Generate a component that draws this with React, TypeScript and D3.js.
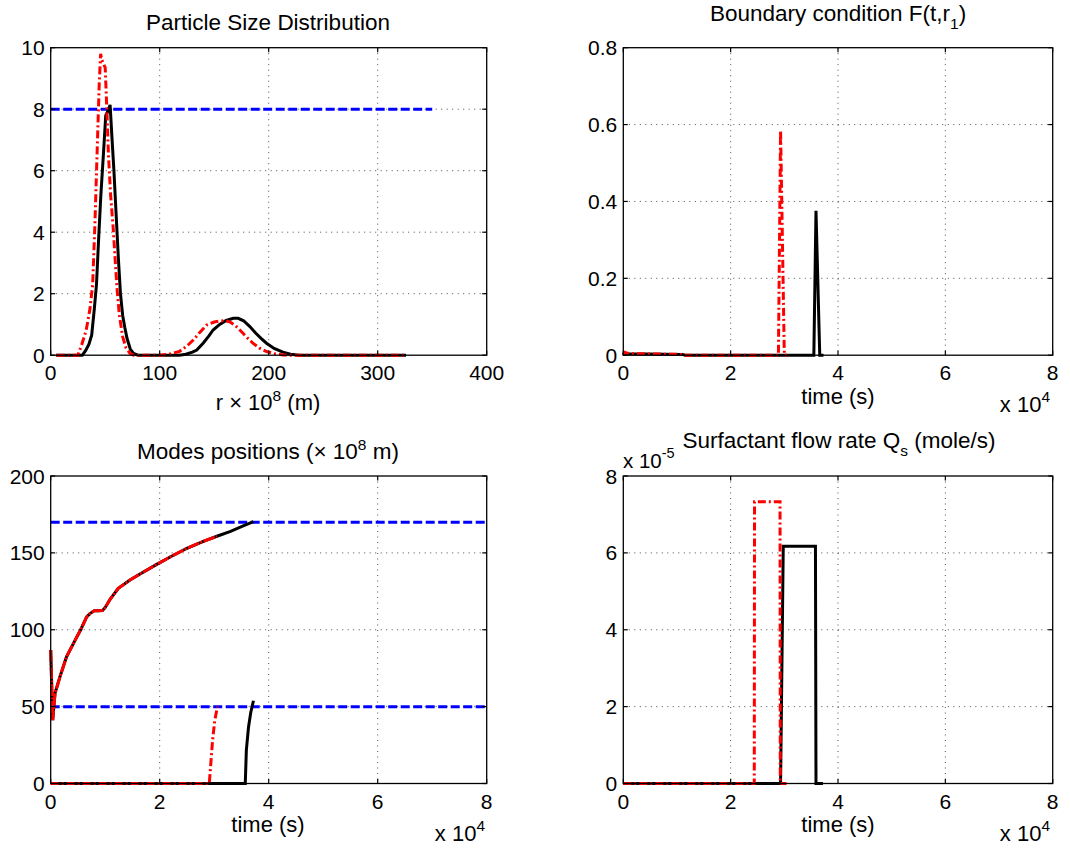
import React from 'react';
import * as d3 from 'd3';

// ---------- Panel 1: Particle Size Distribution ----------
const psdBlackR = [5, 20, 29, 32, 35, 37.6, 40, 42, 44, 46, 48.3, 50.5, 52, 54.5, 56, 58, 60, 62, 64, 66, 68, 70, 73, 76, 80, 110, 118, 124, 130, 134, 140, 145, 149, 155, 161, 167.5, 172, 177, 182.7, 188, 193, 198, 205, 213, 220, 228, 326];
const psdBlackV = [0, 0, 0, 0.15, 0.35, 0.65, 1.5, 2.3, 3.8, 5.2, 6.5, 7.8, 7.9, 8.14, 7.2, 6.0, 4.6, 3.2, 2.0, 1.3, 0.9, 0.55, 0.2, 0.06, 0, 0, 0, 0.03, 0.1, 0.17, 0.4, 0.62, 0.82, 1.0, 1.13, 1.2, 1.2, 1.12, 0.93, 0.72, 0.55, 0.39, 0.22, 0.1, 0.03, 0, 0];
const psdRedR = [5.5, 20, 25, 28.5, 32.5, 36, 38.5, 40.5, 42.5, 44.5, 45.8, 47, 50, 51.5, 53, 55, 57.4, 59.5, 61, 63, 66, 69, 72.5, 76, 100, 108, 118, 125, 131, 137, 143, 150, 155, 160, 164, 169, 173.5, 180, 185.5, 192, 198, 205, 213, 220, 326];
const psdRedV = [0, 0, 0, 0.35, 0.8, 1.5, 2.3, 4.2, 6.5, 8.8, 9.8, 9.6, 9.35, 8.0, 6.5, 5.2, 4.1, 2.9, 2.1, 1.3, 0.6, 0.25, 0.07, 0, 0, 0.03, 0.12, 0.3, 0.5, 0.75, 0.98, 1.08, 1.11, 1.12, 1.09, 0.98, 0.82, 0.58, 0.39, 0.22, 0.12, 0.05, 0.01, 0, 0];
const psdTargetR = [0, 350];
const psdTargetV = [8, 8];
const psdXTicks = [0, 100, 200, 300, 400];
const psdYTicks = [0, 2, 4, 6, 8, 10];

// ---------- Panel 2: Boundary condition ----------
const bcBlackT = [0, 0.02, 0.1, 1.1, 1.15, 3.55, 3.59, 3.66, 3.73];
const bcBlackV = [0, 0.005, 0.004, 0.002, 0, 0, 0.376, 0, 0];
const bcRedT = [0, 0.02, 0.06, 0.2, 0.6, 1.1, 1.15, 2.89, 2.93, 3.0, 3.05];
const bcRedV = [0, 0.008, 0.006, 0.004, 0.003, 0.002, 0, 0, 0.585, 0, 0];
const bcYTicks = [0, 0.2, 0.4, 0.6, 0.8];
const timeTicks = [0, 2, 4, 6, 8];

// ---------- Panel 3: Modes positions ----------
const modeMainT = [0, 0.01, 0.025, 0.037, 0.079, 0.17, 0.29, 0.48, 0.55, 0.66, 0.72, 0.8, 0.86, 0.95, 1.0, 1.09, 1.24, 1.455, 1.6, 1.945, 2.2, 2.5, 2.8, 3.05];
const modeMainV = [86.8, 75, 55, 41.2, 58.6, 69.4, 82.4, 95.4, 100, 108.4, 110.5, 112.3, 112.3, 112.5, 114.5, 119.8, 127, 132.3, 135.5, 142.5, 147.5, 153, 157.5, 160.8];
const modeBlackTailT = [3.05, 3.3, 3.5, 3.72];
const modeBlackTailV = [160.8, 164, 167, 170.3];
const modeRedLowT = [0, 2.91, 2.97, 3.01, 3.06];
const modeRedLowV = [0, 0, 28, 41, 50];
const modeBlackLowT = [0, 3.57, 3.59, 3.63, 3.67, 3.72];
const modeBlackLowV = [0, 0, 21.7, 36.8, 46, 53.8];
const modeTargets = [170, 50];
const modeYTicks = [0, 50, 100, 150, 200];

// ---------- Panel 4: Surfactant flow rate ----------
const qBlackT = [0, 2.93, 2.98, 3.58, 3.59, 3.72];
const qBlackV = [0, 0, 6.17, 6.17, 0, 0];
const qRedT = [0, 2.44, 2.445, 2.92, 2.925, 3.04];
const qRedV = [0, 0, 7.33, 7.33, 0, 0];
const qYTicks = [0, 2, 4, 6, 8];

const FONT = '"Liberation Sans", Arial, Helvetica, sans-serif';
const FS = 21;
const FT = 22.5;
const FL = 22;
const BLACK_STYLE = { color: '#000000', dash: undefined as string | undefined, width: 3 };
const RED_STYLE = { color: '#ff0000', dash: '8,3,2,3', width: 3 };
const BLUE_STYLE = { color: '#0000ff', dash: '9,3.5', width: 3 };

type Series = { x: number[]; y: number[]; color: string; dash?: string; width: number };

const zip = (a: number[], b: number[]) => a.map((v, i) => [v, b[i]] as [number, number]);

function Panel(props: {
  left: number; top: number; width: number; height: number;
  xDomain: [number, number]; yDomain: [number, number];
  xTicks: number[]; yTicks: number[];
  series: Series[];
}) {
  const { left, top, width, height, xDomain, yDomain, xTicks, yTicks, series } = props;
  const xs = d3.scaleLinear().domain(xDomain).range([left, left + width]);
  const ys = d3.scaleLinear().domain(yDomain).range([top + height, top]);
  const line = d3.line<[number, number]>().x(d => xs(d[0])).y(d => ys(d[1]));
  const bottom = top + height;
  const right = left + width;
  const tl = 4.5;
  return (
    <g>
      {xTicks.filter(t => t !== xDomain[0] && t !== xDomain[1]).map(t => (
        <line key={'gx' + t} x1={xs(t)} x2={xs(t)} y1={top} y2={bottom} stroke="#000" strokeOpacity={0.7} strokeWidth={1} strokeDasharray="1,4.5" />
      ))}
      {yTicks.filter(t => t !== yDomain[0] && t !== yDomain[1]).map(t => (
        <line key={'gy' + t} x1={left} x2={right} y1={ys(t)} y2={ys(t)} stroke="#000" strokeOpacity={0.7} strokeWidth={1} strokeDasharray="1,4.5" />
      ))}
      {series.map((s, i) => (
        <path key={'s' + i} d={line(zip(s.x, s.y)) || ''} fill="none" stroke={s.color} strokeWidth={s.width} strokeDasharray={s.dash} />
      ))}
      <rect x={left} y={top} width={width} height={height} fill="none" stroke="#000" strokeWidth={1.3} />
      {xTicks.map(t => (
        <g key={'tx' + t}>
          <line x1={xs(t)} x2={xs(t)} y1={bottom} y2={bottom - tl} stroke="#000" strokeWidth={1.2} />
          <line x1={xs(t)} x2={xs(t)} y1={top} y2={top + tl} stroke="#000" strokeWidth={1.2} />
          <text x={xs(t)} y={bottom + 25} textAnchor="middle" fontFamily={FONT} fontSize={FS}>{String(t)}</text>
        </g>
      ))}
      {yTicks.map(t => (
        <g key={'ty' + t}>
          <line x1={left} x2={left + tl} y1={ys(t)} y2={ys(t)} stroke="#000" strokeWidth={1.2} />
          <line x1={right} x2={right - tl} y1={ys(t)} y2={ys(t)} stroke="#000" strokeWidth={1.2} />
          <text x={left - 6} y={ys(t)} dy="0.36em" textAnchor="end" fontFamily={FONT} fontSize={FS}>{String(t)}</text>
        </g>
      ))}
    </g>
  );
}

export default function App() {
  const L1 = 50.7, L2 = 623.3, W1 = 436, W2 = 429.4;
  const T1 = 47.7, T2 = 476, H = 307.5;
  const sup = { fontSize: 15.5 };
  return (
    <svg width={1070} height={850} style={{ position: 'absolute', left: 0, top: 0, background: '#fff' }} fontFamily={FONT}>
      <rect x={0} y={0} width={1070} height={850} fill="#fff" />
      <Panel left={L1} top={T1} width={W1} height={H} xDomain={[0, 400]} yDomain={[0, 10]}
        xTicks={psdXTicks} yTicks={psdYTicks}
        series={[
          { x: psdTargetR, y: psdTargetV, ...BLUE_STYLE },
          { x: psdBlackR, y: psdBlackV, ...BLACK_STYLE },
          { x: psdRedR, y: psdRedV, ...RED_STYLE },
        ]} />
      <Panel left={L2} top={T1} width={W2} height={H} xDomain={[0, 8]} yDomain={[0, 0.8]}
        xTicks={timeTicks} yTicks={bcYTicks}
        series={[
          { x: bcBlackT, y: bcBlackV, ...BLACK_STYLE },
          { x: bcRedT, y: bcRedV, ...RED_STYLE },
        ]} />
      <Panel left={L1} top={T2} width={W1} height={H} xDomain={[0, 8]} yDomain={[0, 200]}
        xTicks={timeTicks} yTicks={modeYTicks}
        series={[
          ...modeTargets.map(v => ({ x: [0, 8], y: [v, v], ...BLUE_STYLE })),
          { x: [...modeMainT, ...modeBlackTailT.slice(1)], y: [...modeMainV, ...modeBlackTailV.slice(1)], ...BLACK_STYLE },
          { x: modeBlackLowT, y: modeBlackLowV, ...BLACK_STYLE },
          { x: modeMainT, y: modeMainV, ...RED_STYLE, dash: '12,1.5,2,1.5' },
          { x: modeRedLowT, y: modeRedLowV, ...RED_STYLE },
        ]} />
      <Panel left={L2} top={T2} width={W2} height={H} xDomain={[0, 8]} yDomain={[0, 8]}
        xTicks={timeTicks} yTicks={qYTicks}
        series={[
          { x: qBlackT, y: qBlackV, ...BLACK_STYLE },
          { x: qRedT, y: qRedV, ...RED_STYLE },
        ]} />

      <text x={268} y={30} textAnchor="middle" fontSize={FT}>Particle Size Distribution</text>
      <text x={268} y={410} textAnchor="middle" fontSize={FL}>r × 10<tspan dy={-9} style={sup}>8</tspan><tspan dy={9}> (m)</tspan></text>

      <text x={838} y={21} textAnchor="middle" fontSize={FT}>Boundary condition F(t,r<tspan dy={8} style={sup}>1</tspan><tspan dy={-8}>)</tspan></text>
      <text x={838} y={404} textAnchor="middle" fontSize={FL}>time (s)</text>
      <text x={1050} y={412} textAnchor="end" fontSize={FL}>x 10<tspan dy={-10} style={sup}>4</tspan></text>

      <text x={268} y={459} textAnchor="middle" fontSize={FT}>Modes positions (× 10<tspan dy={-9} style={sup}>8</tspan><tspan dy={9}> m)</tspan></text>
      <text x={268} y={832} textAnchor="middle" fontSize={FL}>time (s)</text>
      <text x={485} y={841} textAnchor="end" fontSize={FL}>x 10<tspan dy={-10} style={sup}>4</tspan></text>

      <text x={839} y={448} textAnchor="middle" fontSize={FT}>Surfactant flow rate Q<tspan dy={8} style={sup}>s</tspan><tspan dy={-8}> (mole/s)</tspan></text>
      <text x={623} y={468} textAnchor="start" fontSize={20.5}>x 10<tspan dy={-10} style={{ fontSize: 14.5 }}>-5</tspan></text>
      <text x={838} y={832} textAnchor="middle" fontSize={FL}>time (s)</text>
      <text x={1050} y={841} textAnchor="end" fontSize={FL}>x 10<tspan dy={-10} style={sup}>4</tspan></text>
    </svg>
  );
}
